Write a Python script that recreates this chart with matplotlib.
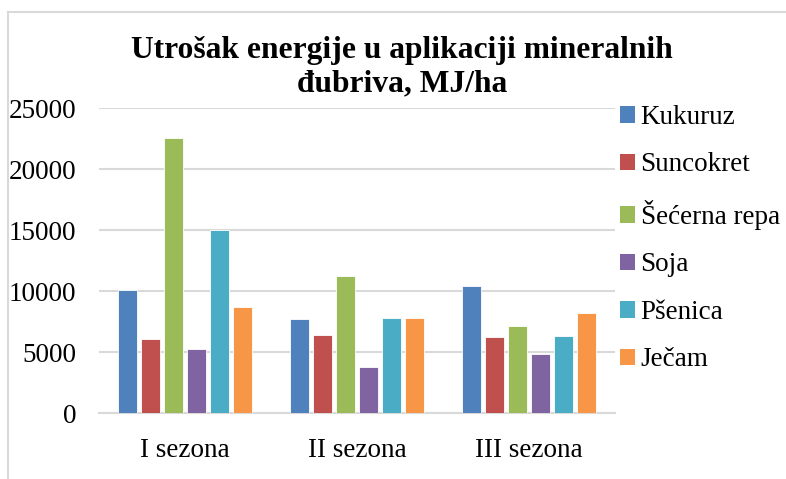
import numpy as np
import matplotlib.pyplot as plt
from matplotlib.lines import Line2D
from matplotlib.patches import Patch

# data (MJ/ha)
seasons = ['I sezona', 'II sezona', 'III sezona']
crops = ['Kukuruz', 'Suncokret', 'Šećerna repa', 'Soja', 'Pšenica', 'Ječam']
kukuruz = [10100, 7700, 10400]
suncokret = [6100, 6400, 6250]
secerna_repa = [22600, 11250, 7150]
soja = [5300, 3800, 4900]
psenica = [15000, 7850, 6350]
jecam = [8700, 7850, 8250]
series = [kukuruz, suncokret, secerna_repa, soja, psenica, jecam]
colors = ['#4F81BD', '#C0504D', '#9BBB59', '#8064A2', '#4BACC6', '#F79646']

plt.rcParams['font.family'] = ['Liberation Serif', 'DejaVu Serif']

W, H = 786, 479
fig = plt.figure(figsize=(W / 100, H / 100), dpi=100)
ax = fig.add_axes([99 / W, 1 - 413.3 / H, (615 - 99) / W, (413.3 - 108.3) / H])

x = np.arange(len(seasons))
step = 0.133
bar_w = 0.112
for i, (name, vals) in enumerate(zip(crops, series)):
    ax.bar(x + (i - 2.5) * step, vals, bar_w, color=colors[i],
           edgecolor='white', linewidth=0.6, zorder=3)

ax.set_xlim(-0.5, 2.5)
ax.set_ylim(0, 25000)
ax.set_yticks(range(0, 25001, 5000))
ax.set_xticks(x)
ax.set_xticklabels(seasons)
ax.tick_params(axis='both', length=0, labelsize=19.5)
ax.tick_params(axis='y', pad=16.5)
ax.tick_params(axis='x', pad=18)
ax.grid(axis='y', color='#d9d9d9', linewidth=1.5, zorder=0)
for s in ['top', 'right', 'left']:
    ax.spines[s].set_visible(False)
ax.spines['bottom'].set_color('#d9d9d9')
ax.spines['bottom'].set_linewidth(1.5)

fig.text(402 / W, 1 - 67 / H, 'Utrošak energije u aplikaciji mineralnih\nđubriva, MJ/ha',
         ha='center', va='center', fontsize=22.7, fontweight='bold', linespacing=1.2)

handles = [Patch(facecolor=c, edgecolor='none') for c in colors]
fig.legend(handles, crops, loc='upper left', bbox_to_anchor=(620 / W, 1 - 105 / H),
           frameon=False, fontsize=19.5, handlelength=0.56, handleheight=0.56,
           handletextpad=0.2, labelspacing=0.83, borderaxespad=0, borderpad=0)

# outer chart frame
fig.add_artist(Line2D([7.5 / W, 7.5 / W], [0, 1 - 12 / H], color='#d9d9d9', lw=1.5))
fig.add_artist(Line2D([7.5 / W, 1], [1 - 12 / H, 1 - 12 / H], color='#d9d9d9', lw=1.5))

fig.savefig('out.png', dpi=100)
